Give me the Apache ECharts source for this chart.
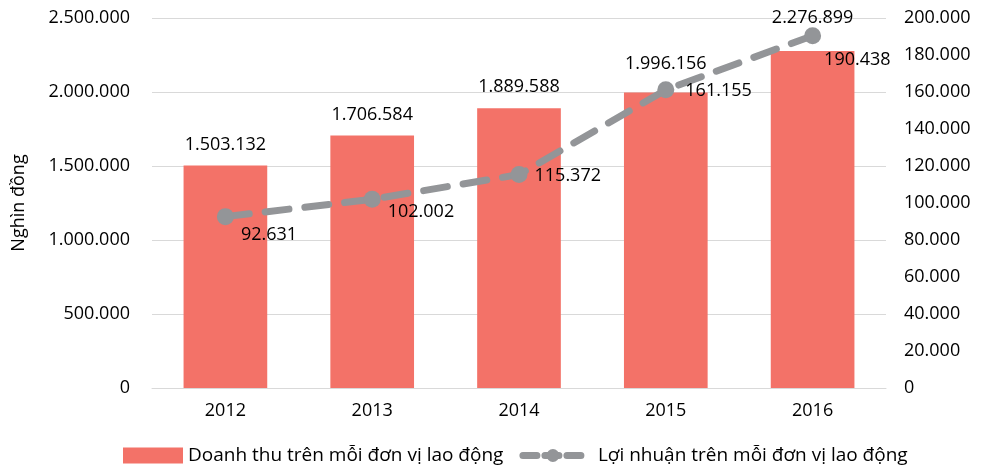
<!DOCTYPE html>
<html>
<head>
<meta charset="utf-8">
<script src="https://cdn.jsdelivr.net/npm/echarts@6/dist/echarts.min.js"></script>
<style>
  html, body { margin: 0; padding: 0; background: #fff; }
  #chart { width: 985px; height: 470px; }
</style>
</head>
<body>
<div id="chart"></div>
<script>
var years = ['2012', '2013', '2014', '2015', '2016'];
var doanhThu = [1503132, 1706584, 1889588, 1996156, 2276899];
var loiNhuan = [92631, 102002, 115372, 161155, 190438];

function fmt(v) {
  return String(v).replace(/\B(?=(\d{3})+(?!\d))/g, '.');
}

// label nudges so the texts clear the dashed line (as in the source)
var barLabelGap = [12, 12, 12, 20, 24];
var lineLabelShift = [[2, 18], [2, 13], [2, 1], [6, 1], [-2, 24]];

var myChart = echarts.init(document.getElementById('chart'));
var font = '"Open Sans", sans-serif';
var option = {
  textStyle: { fontFamily: font },
  grid: { left: 152, right: 99, top: 18, bottom: 82 },
  legend: {
    bottom: 0,
    left: 118,
    itemGap: 16,
    itemWidth: 60,
    itemHeight: 16,
    textStyle: { fontSize: 19, color: '#000', fontFamily: font },
    data: [
      { name: 'Doanh thu trên mỗi đơn vị lao động', icon: 'rect' },
      {
        name: 'Lợi nhuận trên mỗi đơn vị lao động',
        lineStyle: { width: 7, type: [14, 8], cap: 'round', color: '#939598' },
        textStyle: { padding: [0, 0, 0, 10] }
      }
    ]
  },
  xAxis: {
    type: 'category',
    data: years,
    axisLine: { show: true, lineStyle: { color: '#d9d9d9' } },
    axisTick: { show: false },
    axisLabel: { color: '#000', fontSize: 18, margin: 14 }
  },
  yAxis: [
    {
      type: 'value',
      min: 0,
      max: 2500000,
      interval: 500000,
      name: 'Nghìn đồng',
      nameLocation: 'middle',
      nameGap: 124,
      nameTextStyle: { fontSize: 18, color: '#000' },
      axisLabel: { color: '#000', fontSize: 18, margin: 22, formatter: fmt },
      splitLine: { lineStyle: { color: '#d9d9d9' } }
    },
    {
      type: 'value',
      min: 0,
      max: 200000,
      interval: 20000,
      position: 'right',
      axisLabel: { color: '#000', fontSize: 18, margin: 18, formatter: fmt },
      splitLine: { show: false }
    }
  ],
  series: [
    {
      name: 'Doanh thu trên mỗi đơn vị lao động',
      type: 'bar',
      data: doanhThu.map(function (v, i) {
        return { value: v, label: { distance: barLabelGap[i] } };
      }),
      barWidth: '57%',
      itemStyle: { color: '#F37268' },
      label: {
        show: true,
        position: 'top',
        color: '#000',
        fontSize: 18,
        formatter: function (p) { return fmt(p.value); }
      }
    },
    {
      name: 'Lợi nhuận trên mỗi đơn vị lao động',
      type: 'line',
      yAxisIndex: 1,
      data: loiNhuan.map(function (v, i) {
        return { value: v, label: { offset: lineLabelShift[i] } };
      }),
      symbol: 'circle',
      symbolSize: 17,
      itemStyle: { color: '#939598' },
      lineStyle: { color: '#939598', width: 7, type: [24, 16], cap: 'round' },
      label: {
        show: true,
        position: 'right',
        color: '#000',
        fontSize: 18,
        formatter: function (p) { return fmt(p.value); }
      },
      z: 5
    }
  ]
};
myChart.setOption(option);
</script>
</body>
</html>
